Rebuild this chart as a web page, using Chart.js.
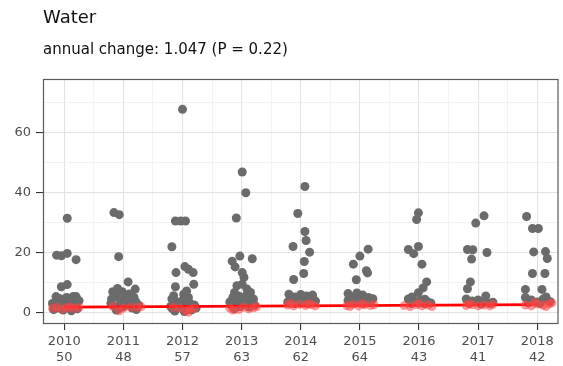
<!DOCTYPE html>
<html>
<head>
<meta charset="utf-8">
<script src="https://cdn.jsdelivr.net/npm/chart.js@4/dist/chart.umd.min.js"></script>
<style>
  html, body { margin: 0; padding: 0; background: #ffffff; }
  #wrap { width: 563px; height: 366px; }
</style>
</head>
<body>
<div id="wrap"><canvas id="c" width="563" height="366"></canvas></div>
<script>
// ---- data ----
const chartTitle = "Water";
const chartSubtitle = "annual change: 1.047 (P = 0.22)";
const years = [2010, 2011, 2012, 2013, 2014, 2015, 2016, 2017, 2018];
const counts = [50, 48, 57, 63, 62, 64, 43, 41, 42];
const yMajorTicks = [0, 20, 40, 60];

// grey points: [horizontal jitter offset from the year, value]
const gray2010 = [[0.05,31.4],[-0.13,19.1],[-0.05,18.9],[0.05,19.7],[0.2,17.6],[-0.05,8.6],[0.05,9.3],
  [-0.14,5.3],[-0.13,3.9],[-0.08,4.7],[0.04,5.0],[0.15,5.3],[0.2,5.3],[0.13,3.6],[-0.13,2.2],[0.01,3.1],
  [0.17,2.4],[0.25,3.9],[-0.2,3.0],[-0.1,1.5],[0.08,2.0],[0.22,1.2],[-0.02,0.8],[0.12,0.6],[-0.18,1.0],
  [0.1,4.2],[-0.05,2.6]];
const gray2011 = [[-0.16,33.3],[-0.07,32.6],[-0.08,18.6],[0.08,10.2],[0.2,7.8],
  [-0.18,6.9],[-0.1,8.0],[-0.02,6.9],[0.04,5.6],[-0.13,5.3],[0.12,4.4],[-0.05,3.9],[0.21,3.6],[-0.21,3.1],
  [0.06,3.1],[0.26,2.4],[-0.16,2.2],[0.0,2.0],[0.15,1.5],[-0.08,1.2],[0.1,6.2],[-0.2,4.5],[0.18,5.0],
  [0.02,4.7],[-0.12,0.8],[0.22,1.0],[0.07,2.6]];
const gray2012 = [[0.0,67.7],[-0.12,30.5],[-0.03,30.5],[0.05,30.5],[-0.18,21.9],[-0.11,13.3],[0.04,15.3],
  [0.1,14.4],[0.18,13.3],[-0.12,8.6],[0.19,9.4],[0.07,7.2],[0.02,6.1],[-0.15,5.6],
  [-0.18,4.5],[-0.1,3.5],[0.0,4.0],[0.12,3.2],[0.2,2.5],[-0.2,2.0],[-0.05,1.8],[0.08,1.2],[0.15,0.8],
  [-0.13,0.5],[0.03,0.3],[-0.17,1.2],[0.1,5.0],[-0.07,2.8],[0.05,2.2],[0.23,1.5]];
const gray2013 = [[0.01,46.8],[0.07,39.9],[-0.09,31.5],[-0.03,18.8],[-0.16,17.1],[0.18,17.9],[-0.11,15.2],
  [0.01,13.3],[0.04,11.7],[-0.08,8.9],[0.01,9.4],[0.09,7.8],[-0.12,6.7],[0.15,6.7],
  [-0.15,5.0],[-0.05,5.5],[0.05,4.8],[0.2,4.5],[-0.2,3.5],[-0.1,3.0],[0.0,3.8],[0.1,3.2],[0.22,2.5],
  [-0.17,2.3],[-0.02,2.0],[0.13,1.8],[0.08,5.8],[-0.07,4.2],[0.17,3.6],[0.03,2.7],[-0.12,1.2]];
const gray2014 = [[0.07,42.0],[-0.05,33.0],[0.07,27.0],[0.09,24.0],[-0.13,22.0],[0.15,20.1],[0.06,17.0],
  [0.05,13.0],[-0.12,11.0],
  [-0.2,6.1],[-0.1,5.2],[0.0,6.0],[0.1,5.5],[0.2,5.8],[-0.15,4.2],[-0.05,4.5],[0.05,4.0],[0.15,4.3],
  [0.25,3.8],[-0.22,3.5],[0.0,3.2],[0.12,3.0],[-0.1,3.0]];
const gray2015 = [[0.14,21.1],[0.0,18.8],[-0.11,16.1],[0.11,13.9],[0.13,13.2],[-0.06,10.9],[-0.2,6.3],
  [-0.15,5.3],[-0.05,6.5],[0.05,5.8],[0.15,5.0],[0.22,4.6],[-0.2,4.0],[-0.1,4.5],[0.0,3.8],[0.1,4.2],
  [0.18,3.3],[-0.08,3.2],[0.06,3.0]];
const gray2016 = [[-0.01,33.2],[-0.04,31.0],[-0.18,21.0],[-0.01,22.0],[-0.09,19.6],[0.05,16.1],
  [0.13,10.2],[0.07,8.2],[-0.01,6.6],[-0.12,5.2],[0.1,4.4],
  [-0.18,4.5],[-0.08,3.8],[0.03,4.0],[0.15,3.5],[-0.13,3.0],[0.1,2.9],[0.2,3.2],[-0.02,3.3]];
const gray2017 = [[0.1,32.2],[-0.04,29.8],[-0.18,21.0],[-0.09,20.9],[-0.11,17.8],[0.15,20.0],
  [-0.13,10.2],[-0.18,7.9],
  [-0.2,4.5],[-0.1,3.8],[0.0,4.2],[0.12,3.5],[0.2,3.0],[-0.15,3.0],[0.05,2.8],[0.25,3.4],[0.13,5.5]];
const gray2018 = [[-0.18,32.0],[-0.08,28.0],[0.02,28.0],[-0.06,20.2],[0.14,20.3],[0.17,18.0],
  [-0.08,13.0],[0.13,13.0],[-0.2,7.7],[0.08,7.7],
  [-0.2,5.0],[-0.1,4.2],[0.0,3.5],[0.1,4.5],[0.15,5.2],[-0.15,3.2],[0.05,3.0],[0.22,3.6]];

// red (low) points: [offset, value]
const red2010 = [[-0.12,1.7],[0.04,1.6],[0.17,1.3],[0.25,1.7],[-0.04,1.1],[0.1,1.8],[-0.2,1.4]];
const red2011 = [[-0.07,0.6],[0.23,1.7],[0.12,1.7],[-0.18,2.0],[0.0,1.5],[0.3,1.9]];
const red2012 = [[0.13,1.1],[-0.16,1.7],[0.1,0.1],[0.2,1.4],[-0.05,1.5],[0.05,0.6]];
const red2013 = [[-0.2,1.5],[-0.15,0.8],[0.03,1.7],[0.12,1.2],[0.2,1.6],[-0.05,1.0],[0.25,1.9]];
const red2014 = [[-0.22,2.5],[-0.12,2.2],[-0.02,2.7],[0.08,2.3],[0.18,2.6],[0.25,2.2],[-0.17,3.0],[0.13,2.9]];
const red2015 = [[-0.22,2.3],[-0.12,2.7],[-0.02,2.2],[0.08,2.6],[0.18,2.3],[0.24,2.6],[-0.17,2.0],[0.03,2.9]];
const red2016 = [[-0.25,2.3],[-0.15,2.0],[-0.05,2.6],[0.05,2.2],[0.15,2.5],[0.22,2.0],[0.0,3.0]];
const red2017 = [[-0.2,2.3],[-0.1,2.6],[0.0,2.2],[0.1,2.5],[0.2,2.2],[0.25,2.7],[-0.15,2.9]];
const red2018 = [[-0.2,2.5],[-0.1,2.2],[0.0,2.8],[0.1,2.4],[0.2,2.9],[0.25,3.2],[0.15,2.0],[-0.05,3.3]];

// fitted trend line
const trendYears = [2010, 2018];
const trendValues = [1.8, 2.6];

// ---- build datasets ----
const grayByYear = [gray2010, gray2011, gray2012, gray2013, gray2014, gray2015, gray2016, gray2017, gray2018];
const redByYear = [red2010, red2011, red2012, red2013, red2014, red2015, red2016, red2017, red2018];
function toPoints(groups) {
  const out = [];
  groups.forEach((g, i) => g.forEach(p => out.push({ x: years[i] + p[0], y: p[1] })));
  return out;
}
const grayPts = toPoints(grayByYear);
const redPts = toPoints(redByYear);
const trendPts = trendYears.map((x, i) => ({ x: x, y: trendValues[i] }));

const FONT = "'DejaVu Sans', 'Liberation Sans', sans-serif";
const isInt = v => Math.abs(v - Math.round(v)) < 1e-6;

const borderPlugin = {
  id: 'panelBorder',
  afterDraw(chart) {
    const a = chart.chartArea, ctx = chart.ctx;
    ctx.save();
    ctx.strokeStyle = '#5a5a5a';
    ctx.lineWidth = 1.2;
    ctx.strokeRect(a.left + 0.5, a.top + 0.5, a.right - a.left - 1, a.bottom - a.top - 1);
    ctx.restore();
  }
};

new Chart(document.getElementById('c'), {
  type: 'scatter',
  data: {
    datasets: [
      { label: 'low', data: redPts, backgroundColor: 'rgba(255,70,70,0.55)', borderWidth: 0,
        pointRadius: 4.5, pointHoverRadius: 4.5, order: 0 },
      { label: 'trend', type: 'line', data: trendPts, borderColor: '#ff0000', borderWidth: 2.8,
        pointRadius: 0, fill: false, tension: 0, order: 1 },
      { label: 'values', data: grayPts, backgroundColor: '#6b6b6b', borderWidth: 0,
        pointRadius: 4.5, pointHoverRadius: 4.5, order: 2 }
    ]
  },
  options: {
    responsive: false,
    animation: false,
    events: [],
    layout: { padding: { left: 0, right: 0, top: 0, bottom: 0 } },
    plugins: {
      legend: { display: false },
      tooltip: { enabled: false },
      title: {
        display: true, text: chartTitle, align: 'start', fullSize: false, color: '#111111',
        font: { family: FONT, size: 18, weight: 'normal', lineHeight: 1.2 },
        padding: { top: 8, bottom: 9 }
      },
      subtitle: {
        display: true, text: chartSubtitle, align: 'start', fullSize: false, color: '#111111',
        font: { family: FONT, size: 15, weight: 'normal', lineHeight: 1.2 },
        padding: { top: 3, bottom: 19.4 }
      }
    },
    scales: {
      x: {
        type: 'linear', min: 2009.64, max: 2018.36,
        afterFit(scale) { scale.height = 42; },
        border: { display: false },
        grid: {
          color: ctx => isInt(ctx.tick.value) ? '#e3e3e3' : '#efefef',
          lineWidth: ctx => isInt(ctx.tick.value) ? 1.1 : 0.8,
          tickColor: ctx => isInt(ctx.tick.value) ? '#333333' : 'rgba(0,0,0,0)',
          tickLength: 6, drawTicks: true
        },
        ticks: {
          stepSize: 0.5, includeBounds: false, autoSkip: false, maxRotation: 0, padding: 4,
          color: '#4d4d4d', font: { family: FONT, size: 13, lineHeight: 1.2 },
          callback(value) {
            if (!isInt(value)) return '';
            const i = years.indexOf(Math.round(value));
            return i < 0 ? '' : [String(years[i]), String(counts[i])];
          }
        }
      },
      y: {
        type: 'linear', min: -3.83, max: 77.8,
        afterFit(scale) { scale.width = 43; },
        border: { display: false },
        grid: {
          color: ctx => isInt(ctx.tick.value / 20) ? '#e3e3e3' : '#efefef',
          lineWidth: ctx => isInt(ctx.tick.value / 20) ? 1.1 : 0.8,
          tickColor: ctx => isInt(ctx.tick.value / 20) ? '#333333' : 'rgba(0,0,0,0)',
          tickLength: 7, drawTicks: true
        },
        ticks: {
          stepSize: 10, includeBounds: false, autoSkip: false, padding: 5,
          color: '#4d4d4d', font: { family: FONT, size: 13 },
          callback(value) {
            return yMajorTicks.includes(value) ? String(value) : '';
          }
        }
      }
    }
  },
  plugins: [borderPlugin]
});
</script>
</body>
</html>
